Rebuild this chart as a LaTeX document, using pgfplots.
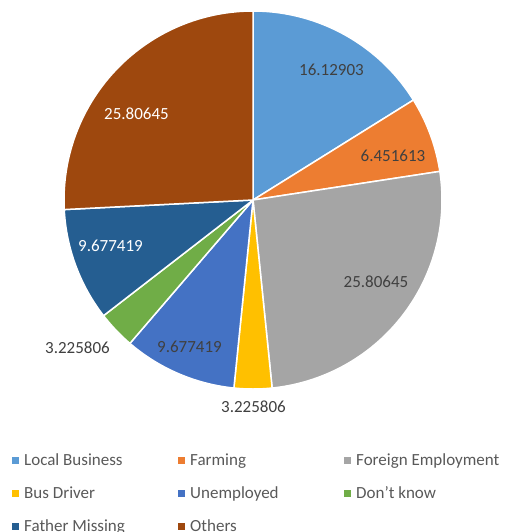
\documentclass[border=0pt]{standalone}
\usepackage{pgfplots}
\pgfplotsset{compat=1.18}
\usepackage{pgfplotstable}
\usepackage{fontspec}
\setmainfont{Carlito}
\definecolor{c0}{HTML}{5B9BD5}
\definecolor{c1}{HTML}{ED7D31}
\definecolor{c2}{HTML}{A5A5A5}
\definecolor{c3}{HTML}{FFC000}
\definecolor{c4}{HTML}{4472C4}
\definecolor{c5}{HTML}{70AD47}
\definecolor{c6}{HTML}{255E91}
\definecolor{c7}{HTML}{9E480E}
\definecolor{labcol}{HTML}{404040}
\definecolor{legcol}{HTML}{595959}
\pgfplotstableread{
label value
{Local Business} 16.12903
Farming 6.451613
{Foreign Employment} 25.80645
{Bus Driver} 3.225806
Unemployed 9.677419
{Don't know} 3.225806
{Father Missing} 9.677419
Others 25.80645
}\piedata
\def\cum{90}
\foreach \i in {0,...,7}{%
  \pgfplotstablegetelem{\i}{value}\of\piedata
  \pgfmathsetmacro\a{\cum}%
  \pgfmathsetmacro\b{\cum-3.6*\pgfplotsretval}%
  \expandafter\xdef\csname sa\i\endcsname{\a}%
  \expandafter\xdef\csname sb\i\endcsname{\b}%
  \xdef\cum{\b}%
  \pgfplotstablegetelem{\i}{label}\of\piedata
  \expandafter\xdef\csname lab\i\endcsname{\pgfplotsretval}%
}
\newcommand\legtext[1]{\makebox[154pt][l]{#1}}
\newcommand\lf{\fontsize{17pt}{20pt}\selectfont}
\begin{document}
\begin{tikzpicture}
\useasboundingbox (0,0) rectangle (505pt,532pt);
\clip (0,0) rectangle (505pt,532pt);
\begin{axis}[
  at={(0,0)}, anchor=south west,
  scale only axis, width=505pt, height=532pt,
  xmin=0, xmax=505, ymin=0, ymax=532, y dir=reverse,
  hide axis, clip=false,
  legend columns=3,
  legend cell align=left,
  legend image code/.code={\path[draw=none,fill=none] (0pt,-8pt) rectangle (12pt,8pt); \fill[#1,draw=none] (0pt,-3.5pt) rectangle (7pt,3.5pt);},
  legend style={draw=none, fill=none, at={(axis cs:12,452.5)}, anchor=north west,
    inner sep=0pt, column sep=0pt, row sep=17pt,
    nodes={inner sep=0pt, font=\lf, text=legcol}},
]
\pgfplotsinvokeforeach{0,...,7}{%
  \edef\temp{\noexpand\addplot[fill=c#1, draw=white, line width=1.5pt, line join=round,
    domain=\csname sb#1\endcsname:\csname sa#1\endcsname, samples=90]
    ({253+189*cos(x)},{200-189*sin(x)}) -- (axis cs:253,200) -- cycle;
    \noexpand\addlegendentry{\noexpand\legtext{\csname lab#1\endcsname}}}%
  \temp
}
\node[font=\lf, text=labcol] at (axis cs:331.5,70) {16.12903};
\node[font=\lf, text=labcol] at (axis cs:393,156) {6.451613};
\node[font=\lf, text=labcol] at (axis cs:376,282) {25.80645};
\node[font=\lf, text=labcol] at (axis cs:253.5,407) {3.225806};
\node[font=\lf, text=labcol] at (axis cs:189.5,347) {9.677419};
\node[font=\lf, text=labcol] at (axis cs:77.5,348) {3.225806};
\node[font=\lf, text=white] at (axis cs:110.5,246) {9.677419};
\node[font=\lf, text=white] at (axis cs:136.5,114) {25.80645};
\end{axis}
\end{tikzpicture}
\end{document}
